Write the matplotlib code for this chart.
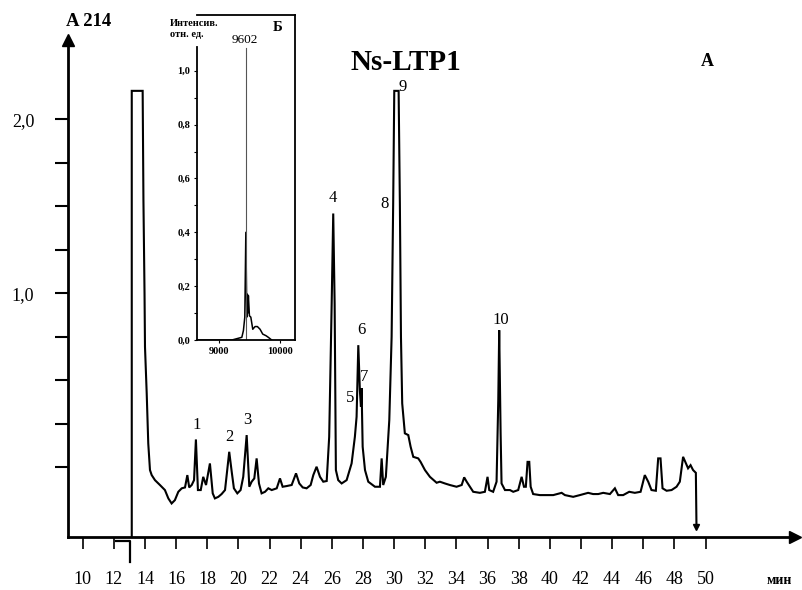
import matplotlib
matplotlib.use("Agg")
import matplotlib.pyplot as plt
import numpy as np

plt.rcParams['font.family'] = ['Liberation Serif', 'DejaVu Serif']

# ---------------- main chromatogram (time, min / A214) ----------------
time_min = [13.15, 13.15, 13.85, 13.90, 13.97, 14.00, 14.11, 14.21, 14.32, 14.43,
            14.64, 14.96, 15.28, 15.50, 15.71, 15.92, 16.14, 16.36, 16.57, 16.72,
            16.84, 17.00, 17.15, 17.27, 17.40, 17.58, 17.74, 17.92, 18.17, 18.35,
            18.49, 18.71, 18.92, 19.14, 19.28, 19.41, 19.57, 19.71, 19.93, 20.14,
            20.31, 20.53, 20.70, 20.85, 21.02, 21.17, 21.32, 21.49, 21.71, 21.92,
            22.14, 22.46, 22.67, 22.84, 23.10, 23.42, 23.70, 23.91, 24.13, 24.38,
            24.64, 24.81, 25.02, 25.24, 25.45, 25.67, 25.83, 25.99, 26.09, 26.18,
            26.26, 26.41, 26.63, 26.95, 27.27, 27.48, 27.59, 27.70, 27.80, 27.87,
            27.91, 27.98, 28.13, 28.34, 28.77, 29.09, 29.20, 29.30, 29.47, 29.69,
            29.84, 29.94, 30.01, 30.29, 30.37, 30.44, 30.52, 30.69, 30.91, 31.06,
            31.23, 31.55, 31.70, 31.98, 32.30, 32.73, 32.94, 33.26, 33.58, 34.01,
            34.34, 34.50, 34.66, 34.87, 35.08, 35.51, 35.83, 36.00, 36.11, 36.36,
            36.58, 36.69, 36.75, 36.84, 36.90, 37.12, 37.44, 37.65, 37.97, 38.19,
            38.34, 38.46, 38.57, 38.68, 38.77, 38.93, 39.36, 39.79, 40.22, 40.76,
            40.97, 41.50, 41.93, 42.46, 42.78, 43.11, 43.43, 43.86, 44.18, 44.39,
            44.71, 45.10, 45.46, 45.83, 46.10, 46.32, 46.53, 46.81, 46.96, 47.11,
            47.24, 47.50, 47.82, 48.14, 48.35, 48.56, 48.74, 48.88, 49.04, 49.20,
            49.38, 49.42]
absorbance = [-0.402, 2.163, 2.163, 1.534, 1.000, 0.691, 0.424, 0.136, -0.017, -0.046,
              -0.075, -0.103, -0.132, -0.180, -0.209, -0.190, -0.142, -0.122, -0.117, -0.046,
              -0.117, -0.103, -0.075, 0.159, -0.132, -0.132, -0.056, -0.103, 0.021, -0.151,
              -0.180, -0.171, -0.155, -0.132, -0.017, 0.088, -0.027, -0.122, -0.151, -0.132,
              -0.056, 0.184, -0.113, -0.084, -0.065, 0.050, -0.094, -0.151, -0.142, -0.122,
              -0.132, -0.122, -0.065, -0.113, -0.109, -0.103, -0.036, -0.094, -0.117, -0.122,
              -0.103, -0.046, 0.002, -0.056, -0.084, -0.080, 0.174, 0.941, 1.458, 0.941,
              -0.017, -0.075, -0.094, -0.075, 0.021, 0.174, 0.289, 0.701, 0.442, 0.347,
              0.454, 0.117, -0.017, -0.084, -0.113, -0.113, 0.050, -0.103, -0.056, 0.270,
              0.749, 1.515, 2.163, 2.163, 1.515, 0.749, 0.366, 0.194, 0.184, 0.117,
              0.059, 0.050, 0.030, -0.017, -0.056, -0.090, -0.084, -0.094, -0.103, -0.113,
              -0.103, -0.059, -0.084, -0.113, -0.142, -0.148, -0.142, -0.056, -0.132, -0.142,
              -0.084, 0.385, 0.787, 0.194, -0.094, -0.132, -0.132, -0.142, -0.132, -0.056,
              -0.113, -0.113, 0.030, 0.030, -0.113, -0.155, -0.161, -0.161, -0.161, -0.148,
              -0.161, -0.171, -0.161, -0.148, -0.155, -0.155, -0.148, -0.155, -0.122, -0.161,
              -0.161, -0.142, -0.148, -0.142, -0.046, -0.084, -0.132, -0.136, 0.050, 0.050,
              -0.122, -0.136, -0.132, -0.113, -0.084, 0.059, 0.021, -0.007, 0.011, -0.017,
              -0.033, -0.343]

peak_names = ['1', '2', '3', '4', '5', '6', '7', '8', '9', '10']
peak_label_t = [17.35, 19.39, 20.55, 26.09, 27.17, 27.87, 28.08, 29.41, 30.55, 36.86]
peak_label_a = [0.241, 0.172, 0.270, 1.546, 0.397, 0.787, 0.519, 1.515, 2.188, 0.845]

# injection marker (below the time axis)
inject_t = [12.14, 13.04, 13.04]
inject_a = [-0.425, -0.425, -0.546]

x_ticks = list(range(10, 51, 2))
y_ticks = [0.0, 0.25, 0.5, 0.75, 1.0, 1.25, 1.5, 1.75, 2.0]
y_tick_labels = ['', '', '', '', '1,0', '', '', '', '2,0']

# ---------------- inset mass spectrum ----------------
ms_mz = [8634, 9208, 9372, 9398, 9421, 9438, 9454, 9464, 9470, 9480, 9497, 9520,
         9552, 9590, 9628, 9672, 9716, 9770, 9808, 9864]
ms_int = [0.0, 0.0, 0.01, 0.035, 0.085, 0.40, 0.085, 0.17, 0.10, 0.165, 0.09, 0.085,
          0.04, 0.05, 0.05, 0.04, 0.022, 0.016, 0.01, 0.0]
ms_main_mz = 9443
ms_main_int = 1.085
ms_main_label = '9602'
ms_yticks = [0.0, 0.2, 0.4, 0.6, 0.8, 1.0]
ms_yticklabels = ['0,0', '0,2', '0,4', '0,6', '0,8', '1,0']
ms_xticks = [9000, 10000]

# ---------------- figure ----------------
fig = plt.figure(figsize=(8.03, 5.90), dpi=100)
ax = fig.add_axes([0.0847, 0.0898, 0.905, 0.842])
ax.set_xlim(9.056, 55.73)
ax.set_ylim(-0.402, 2.454)

ax.plot(time_min, absorbance, color='black', lw=1.5, solid_joinstyle='miter')
ax.plot(time_min[-1], absorbance[-1], marker='v', color='black', ms=4, clip_on=False)
ax.plot(inject_t, inject_a, color='black', lw=1.6, clip_on=False)

for s in ['top', 'right']:
    ax.spines[s].set_visible(False)
for s in ['left', 'bottom']:
    ax.spines[s].set_linewidth(2.0)
ax.plot(1, 0, '>', color='black', ms=8, transform=ax.transAxes, clip_on=False)
ax.plot(0, 1, '^', color='black', ms=8, transform=ax.transAxes, clip_on=False)

ax.set_xticks(x_ticks)
ax.set_xticklabels([str(v) for v in x_ticks])
ax.set_yticks(y_ticks)
ax.set_yticklabels(y_tick_labels)
ax.tick_params(axis='x', direction='out', length=8.6, width=1.2, pad=16, labelsize=13)
ax.tick_params(axis='y', direction='out', length=9.4, width=1.5, pad=15, labelsize=13)

for name, t, a in zip(peak_names, peak_label_t, peak_label_a):
    ax.text(t, a, name, ha='center', va='center', fontsize=12)

fig.text(89 / 803, 1 - 22 / 590, 'A 214', ha='center', va='center', fontsize=13.5, fontweight='bold')
fig.text(406 / 803, 1 - 62 / 590, 'Ns-LTP1', ha='center', va='center', fontsize=21, fontweight='bold')
fig.text(707 / 803, 1 - 61 / 590, 'A', ha='center', va='center', fontsize=13, fontweight='bold')
fig.text(779 / 803, 1 - 581 / 590, 'мин', ha='center', va='center', fontsize=10, fontweight='bold')

# inset
axi = fig.add_axes([0.2453, 0.4237, 0.1220, 0.5508])
axi.set_xlim(8634, 10246)
axi.set_ylim(0, 1.207)
axi.plot(ms_mz, ms_int, color='black', lw=1.1)
axi.plot([ms_main_mz, ms_main_mz], [0, ms_main_int], color='#555555', lw=0.8)
axi.text(ms_main_mz - 15, 1.114, ms_main_label, ha='center', va='center', fontsize=9.5)
axi.text(9967, 1.16, 'Б', ha='center', va='center', fontsize=10.5, fontweight='bold')
axi.spines['left'].set_bounds(0, 1.09)
for s in axi.spines.values():
    s.set_linewidth(1.3)
axi.set_yticks(ms_yticks)
axi.set_yticklabels(ms_yticklabels, fontsize=7.5, fontweight='bold')
axi.set_yticks([0.1, 0.3, 0.5, 0.7, 0.9], minor=True)
axi.set_xticks(ms_xticks)
axi.set_xticklabels([str(v) for v in ms_xticks], fontsize=7.5, fontweight='bold')
axi.tick_params(axis='both', which='both', direction='out', length=2.5, width=0.8, pad=2.5)
fig.text(170 / 803, 1 - 19 / 590, 'Интенсив.\nотн. ед.', ha='left', va='top',
         fontsize=7.5, fontweight='bold', linespacing=1.3)

fig.savefig('out.png', dpi=100)
